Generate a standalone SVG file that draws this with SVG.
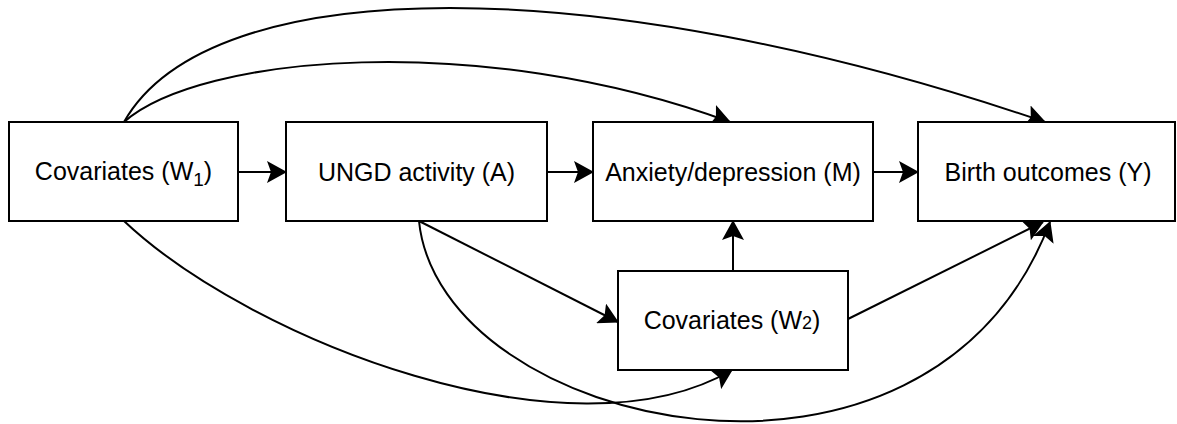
<svg xmlns="http://www.w3.org/2000/svg" width="1177" height="424" viewBox="0 0 1177 424">
<style>
.box{fill:#fff;stroke:#000;stroke-width:2}
.lbl{font-family:"Liberation Sans",Arial,sans-serif;font-size:25px;fill:#000;text-anchor:middle}
.edge{fill:none;stroke:#000;stroke-width:2;marker-end:url(#arr)}
</style>
<defs>
<marker id="arr" markerUnits="userSpaceOnUse" markerWidth="20" markerHeight="22" viewBox="0 0 20 22" refX="19" refY="11" orient="auto">
<path d="M0,0 L20,11 L0,22 L4,11 Z" fill="#000"/>
</marker>
</defs>
<rect width="1177" height="424" fill="#fff"/>
<g id="connectors">
<path class="edge" d="M124,122 C210,-30 600,-30 1045,122"/>
<path class="edge" d="M124,122 C200,55 480,30 730,122"/>
<path class="edge" d="M238,172 L286,172"/>
<path class="edge" d="M547,172 L593,172"/>
<path class="edge" d="M873,172 L918,172"/>
<path class="edge" d="M733,271 L733,221"/>
<path class="edge" d="M419,221 L618,322"/>
<path class="edge" d="M848,319 L1043,222"/>
<path class="edge" d="M124,221 C250,340 570,465 732,370"/>
<path class="edge" d="M419,221 C440,430 930,540 1050,222"/>
</g>
<g id="node-w1">
<rect class="box" x="9" y="122" width="229" height="99"/>
<text class="lbl" x="123.5" y="180">Covariates (W<tspan font-size="19" dy="6">1</tspan><tspan dy="-6">)</tspan></text>
</g>
<g id="node-a">
<rect class="box" x="286" y="122" width="261" height="99"/>
<text class="lbl" x="416.5" y="181">UNGD activity (A)</text>
</g>
<g id="node-m">
<rect class="box" x="593" y="122" width="280" height="99"/>
<text class="lbl" x="733" y="181">Anxiety/depression (M)</text>
</g>
<g id="node-y">
<rect class="box" x="918" y="122" width="257" height="99"/>
<text class="lbl" x="1048" y="181">Birth outcomes (Y)</text>
</g>
<g id="node-w2">
<rect class="box" x="618" y="271" width="230" height="99"/>
<text class="lbl" x="732" y="329">Covariates (W<tspan font-size="18">2</tspan>)</text>
</g>
</svg>
